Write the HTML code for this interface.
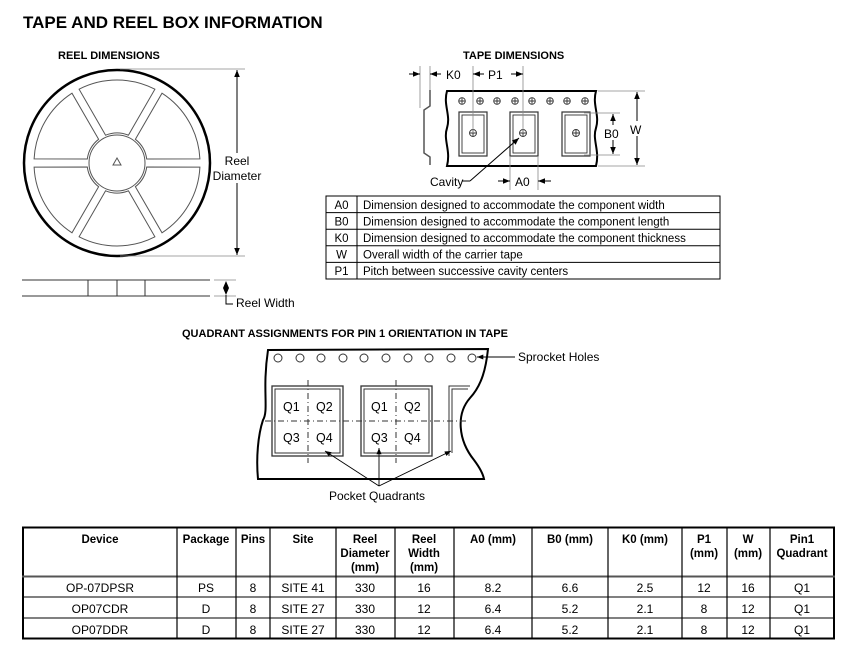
<!DOCTYPE html>
<html><head><meta charset="utf-8"><style>
html,body{margin:0;padding:0;background:#fff;}
svg{display:block;font-family:"Liberation Sans",Arial,sans-serif;}
</style></head><body>
<svg width="850" height="659" viewBox="0 0 850 659" xmlns="http://www.w3.org/2000/svg">
<defs>
<marker id="ah" viewBox="0 0 10 10" refX="10" refY="5" markerWidth="7" markerHeight="7" orient="auto-start-reverse"><path d="M0,1 L10,5 L0,9 z" fill="#000"/></marker>
</defs>
<text x="23" y="28" font-size="17" font-weight="bold">TAPE AND REEL BOX INFORMATION</text>

<!-- REEL -->
<text x="58" y="59" font-size="11" font-weight="bold">REEL DIMENSIONS</text>
<circle cx="117" cy="163" r="93" fill="none" stroke="#000" stroke-width="2.5"/>
<g fill="none" stroke="#555" stroke-width="1">
<path d="M79.1,89.2 A83,83 0 0 1 154.9,89.2 L128.4,135.2 A30,30 0 0 0 105.6,135.2 Z"/>
<path d="M162.0,93.2 A83,83 0 0 1 199.9,158.9 L146.7,159.0 A30,30 0 0 0 135.4,139.3 Z"/>
<path d="M199.9,167.1 A83,83 0 0 1 162.0,232.8 L135.4,186.7 A30,30 0 0 0 146.7,167.0 Z"/>
<path d="M154.9,236.8 A83,83 0 0 1 79.1,236.8 L105.6,190.8 A30,30 0 0 0 128.4,190.8 Z"/>
<path d="M72.0,232.8 A83,83 0 0 1 34.1,167.1 L87.3,167.0 A30,30 0 0 0 98.6,186.7 Z"/>
<path d="M34.1,158.9 A83,83 0 0 1 72.0,93.2 L98.6,139.3 A30,30 0 0 0 87.3,159.0 Z"/>
<circle cx="117" cy="163" r="28"/>
<path d="M117,158 L121,165 L113,165 Z"/>
</g>
<g stroke="#888" stroke-width="0.8"><line x1="120" y1="69" x2="245" y2="69"/><line x1="120" y1="256" x2="245" y2="256"/></g>
<line x1="237" y1="70" x2="237" y2="255" stroke="#000" marker-start="url(#ah)" marker-end="url(#ah)"/>
<rect x="212" y="153" width="52" height="30" fill="#fff"/>
<text x="237" y="165" font-size="12" text-anchor="middle">Reel</text>
<text x="237" y="180" font-size="12" text-anchor="middle">Diameter</text>
<g stroke="#333" stroke-width="1"><line x1="22" y1="280" x2="210" y2="280"/><line x1="22" y1="296" x2="210" y2="296"/>
<line x1="88" y1="280" x2="88" y2="296"/><line x1="117" y1="280" x2="117" y2="296"/><line x1="145" y1="280" x2="145" y2="296"/></g>
<g stroke="#888" stroke-width="0.8"><line x1="214" y1="280" x2="236" y2="280"/><line x1="214" y1="296" x2="236" y2="296"/></g>
<path d="M226,281 L229,288 L226,295 L223,288 Z" fill="#000"/>
<path d="M226,295 L226,304 L233,304" fill="none" stroke="#000"/>
<text x="236" y="307" font-size="12">Reel Width</text>

<!-- TAPE DIMENSIONS -->
<text x="463" y="59" font-size="11" font-weight="bold">TAPE DIMENSIONS</text>
<path d="M447,91 L596,91 C592,105 600,115 596,128 C592,140 600,150 596,166 L447,166 C451,150 443,140 447,128 C451,115 443,105 447,91 Z" fill="#fff" stroke="#000" stroke-width="2"/>
<g fill="none" stroke="#333" stroke-width="0.9">
<circle cx="462" cy="101" r="3.3"/><circle cx="480" cy="101" r="3.3"/><circle cx="497" cy="101" r="3.3"/><circle cx="515" cy="101" r="3.3"/><circle cx="532" cy="101" r="3.3"/><circle cx="550" cy="101" r="3.3"/><circle cx="567" cy="101" r="3.3"/><circle cx="585" cy="101" r="3.3"/>
<path d="M458.7,101h6.6M462,97.7v6.6M476.7,101h6.6M480,97.7v6.6M493.7,101h6.6M497,97.7v6.6M511.7,101h6.6M515,97.7v6.6M528.7,101h6.6M532,97.7v6.6M546.7,101h6.6M550,97.7v6.6M563.7,101h6.6M567,97.7v6.6M581.7,101h6.6M585,97.7v6.6"/>
<rect x="459" y="112" width="28" height="44" stroke-width="1.2"/><rect x="462" y="115" width="22" height="38"/>
<rect x="510" y="112" width="28" height="44" stroke-width="1.2"/><rect x="513" y="115" width="22" height="38"/>
<rect x="562" y="112" width="28" height="44" stroke-width="1.2"/><rect x="565" y="115" width="22" height="38"/>
<circle cx="473" cy="133" r="3.5"/><circle cx="523" cy="133" r="3.5"/><circle cx="576" cy="133" r="3.5"/>
<path d="M469.5,133h7M473,129.5v7M519.5,133h7M523,129.5v7M572.5,133h7M576,129.5v7"/>
</g>
<path d="M430,90 L430,106 L424,110 L424,153 L430,157 L430,165" fill="none" stroke="#555" stroke-width="1.5"/>
<g stroke="#888" stroke-width="0.8"><line x1="420" y1="66" x2="420" y2="108"/><line x1="430" y1="66" x2="430" y2="90"/>
<line x1="473" y1="66" x2="473" y2="133"/><line x1="523" y1="66" x2="523" y2="133"/>
<line x1="510" y1="156" x2="510" y2="190"/><line x1="538" y1="156" x2="538" y2="190"/>
<line x1="598" y1="91" x2="645" y2="91"/><line x1="598" y1="166" x2="645" y2="166"/>
<line x1="584" y1="113" x2="620" y2="113"/><line x1="584" y1="155" x2="620" y2="155"/></g>
<g stroke="#000" stroke-width="1">
<line x1="409" y1="74" x2="420" y2="74" marker-end="url(#ah)"/>
<line x1="441" y1="74" x2="430" y2="74" marker-end="url(#ah)"/>
<line x1="484" y1="74" x2="473" y2="74" marker-end="url(#ah)"/>
<line x1="511" y1="74" x2="523" y2="74" marker-end="url(#ah)"/>
<line x1="498" y1="181" x2="510" y2="181" marker-end="url(#ah)"/>
<line x1="551" y1="181" x2="538" y2="181" marker-end="url(#ah)"/>
<line x1="637" y1="92" x2="637" y2="165" marker-start="url(#ah)" marker-end="url(#ah)"/>
<line x1="613" y1="114" x2="613" y2="154" marker-start="url(#ah)" marker-end="url(#ah)"/>
<line x1="470" y1="181" x2="519" y2="138" marker-end="url(#ah)"/>
<line x1="462" y1="181" x2="470" y2="181"/>
</g>
<text x="446" y="79" font-size="12">K0</text>
<text x="488" y="79" font-size="12">P1</text>
<text x="515" y="186" font-size="12">A0</text>
<text x="430" y="186" font-size="12">Cavity</text>
<rect x="603" y="125" width="18" height="15" fill="#fff"/>
<text x="604" y="138" font-size="12">B0</text>
<rect x="630" y="121" width="16" height="15" fill="#fff"/>
<text x="630" y="134" font-size="12">W</text>

<!-- legend -->
<g fill="none" stroke="#000" stroke-width="1">
<rect x="326" y="196" width="394" height="83"/>
<line x1="357" y1="196" x2="357" y2="279"/>
<line x1="326" y1="212.6" x2="720" y2="212.6"/><line x1="326" y1="229.2" x2="720" y2="229.2"/><line x1="326" y1="245.8" x2="720" y2="245.8"/><line x1="326" y1="262.4" x2="720" y2="262.4"/>
</g>
<g font-size="11.5">
<text x="341.5" y="209" text-anchor="middle">A0</text><text x="363" y="209">Dimension designed to accommodate the component width</text>
<text x="341.5" y="225.5" text-anchor="middle">B0</text><text x="363" y="225.5">Dimension designed to accommodate the component length</text>
<text x="341.5" y="242" text-anchor="middle">K0</text><text x="363" y="242">Dimension designed to accommodate the component thickness</text>
<text x="341.5" y="258.5" text-anchor="middle">W</text><text x="363" y="258.5">Overall width of the carrier tape</text>
<text x="341.5" y="275" text-anchor="middle">P1</text><text x="363" y="275">Pitch between successive cavity centers</text>
</g>

<!-- QUADRANT -->
<text x="182" y="337" font-size="11" font-weight="bold">QUADRANT ASSIGNMENTS FOR PIN 1 ORIENTATION IN TAPE</text>
<path d="M268,350 L488,349 C486,368 482,385 470,398 C456,414 458,440 474,460 C480,468 483,474 484,479 L258,479 C256,458 258,435 263,420 C269,410 262,390 268,350 Z" fill="#fff" stroke="#000" stroke-width="2"/>
<g fill="none" stroke="#333" stroke-width="1">
<circle cx="278" cy="358" r="4"/><circle cx="300" cy="358" r="4"/><circle cx="321" cy="358" r="4"/><circle cx="343" cy="358" r="4"/><circle cx="364" cy="358" r="4"/><circle cx="386" cy="358" r="4"/><circle cx="408" cy="358" r="4"/><circle cx="429" cy="358" r="4"/><circle cx="451" cy="358" r="4"/><circle cx="472" cy="358" r="4"/>
<rect x="272" y="386" width="71" height="70" stroke-width="1.3"/><rect x="275" y="389" width="65" height="64"/>
<rect x="361" y="386" width="71" height="70" stroke-width="1.3"/><rect x="364" y="389" width="65" height="64"/>
<path d="M449,456 L449,386 L470,386 M452,453 L452,389 L468,389" />
</g>
<g stroke="#333" stroke-width="1" stroke-dasharray="6,3,1,3">
<line x1="265" y1="421" x2="468" y2="421"/>
<line x1="308" y1="380" x2="308" y2="463"/><line x1="396" y1="380" x2="396" y2="463"/>
</g>
<g font-size="12.5">
<text x="283" y="411">Q1</text><text x="316" y="411">Q2</text><text x="371" y="411">Q1</text><text x="404" y="411">Q2</text>
<text x="283" y="442">Q3</text><text x="316" y="442">Q4</text><text x="371" y="442">Q3</text><text x="404" y="442">Q4</text>
</g>
<g stroke="#000" stroke-width="0.9">
<line x1="515" y1="357" x2="477" y2="357" marker-end="url(#ah)"/>
<line x1="379" y1="486" x2="325" y2="451" marker-end="url(#ah)"/>
<line x1="379" y1="486" x2="379" y2="448" marker-end="url(#ah)"/>
<line x1="379" y1="486" x2="451" y2="451" marker-end="url(#ah)"/>
</g>
<text x="518" y="361" font-size="12">Sprocket Holes</text>
<text x="329" y="500" font-size="12">Pocket Quadrants</text>

<!-- DATA TABLE -->
<g fill="none" stroke="#000">
<rect x="23" y="527.5" width="811" height="111" stroke-width="2"/>
<line x1="22" y1="576.5" x2="835" y2="576.5" stroke="#555" stroke-width="2"/>
<line x1="22" y1="597" x2="835" y2="597"/><line x1="22" y1="618" x2="835" y2="618"/>
<g stroke-width="1.2">
<line x1="177" y1="527" x2="177" y2="639"/><line x1="236" y1="527" x2="236" y2="639"/><line x1="270" y1="527" x2="270" y2="639"/><line x1="336" y1="527" x2="336" y2="639"/><line x1="395" y1="527" x2="395" y2="639"/><line x1="454" y1="527" x2="454" y2="639"/><line x1="532" y1="527" x2="532" y2="639"/><line x1="608" y1="527" x2="608" y2="639"/><line x1="682" y1="527" x2="682" y2="639"/><line x1="727" y1="527" x2="727" y2="639"/><line x1="770" y1="527" x2="770" y2="639"/>
</g></g>
<g font-size="11.5" font-weight="bold" text-anchor="middle">
<text x="100" y="543">Device</text><text x="206" y="543">Package</text><text x="253" y="543">Pins</text><text x="303" y="543">Site</text>
<text x="365" y="543">Reel</text><text x="365" y="557">Diameter</text><text x="365" y="571">(mm)</text>
<text x="424" y="543">Reel</text><text x="424" y="557">Width</text><text x="424" y="571">(mm)</text>
<text x="493" y="543">A0 (mm)</text><text x="570" y="543">B0 (mm)</text><text x="645" y="543">K0 (mm)</text>
<text x="704" y="543">P1</text><text x="704" y="557">(mm)</text>
<text x="748" y="543">W</text><text x="748" y="557">(mm)</text>
<text x="802" y="543">Pin1</text><text x="802" y="557">Quadrant</text>
</g>
<g font-size="12" text-anchor="middle">
<text x="100" y="592">OP-07DPSR</text><text x="206" y="592">PS</text><text x="253" y="592">8</text><text x="303" y="592">SITE 41</text><text x="365" y="592">330</text><text x="424" y="592">16</text><text x="493" y="592">8.2</text><text x="570" y="592">6.6</text><text x="645" y="592">2.5</text><text x="704" y="592">12</text><text x="748" y="592">16</text><text x="802" y="592">Q1</text>
<text x="100" y="613">OP07CDR</text><text x="206" y="613">D</text><text x="253" y="613">8</text><text x="303" y="613">SITE 27</text><text x="365" y="613">330</text><text x="424" y="613">12</text><text x="493" y="613">6.4</text><text x="570" y="613">5.2</text><text x="645" y="613">2.1</text><text x="704" y="613">8</text><text x="748" y="613">12</text><text x="802" y="613">Q1</text>
<text x="100" y="634">OP07DDR</text><text x="206" y="634">D</text><text x="253" y="634">8</text><text x="303" y="634">SITE 27</text><text x="365" y="634">330</text><text x="424" y="634">12</text><text x="493" y="634">6.4</text><text x="570" y="634">5.2</text><text x="645" y="634">2.1</text><text x="704" y="634">8</text><text x="748" y="634">12</text><text x="802" y="634">Q1</text>
</g>
</svg>
</body></html>
